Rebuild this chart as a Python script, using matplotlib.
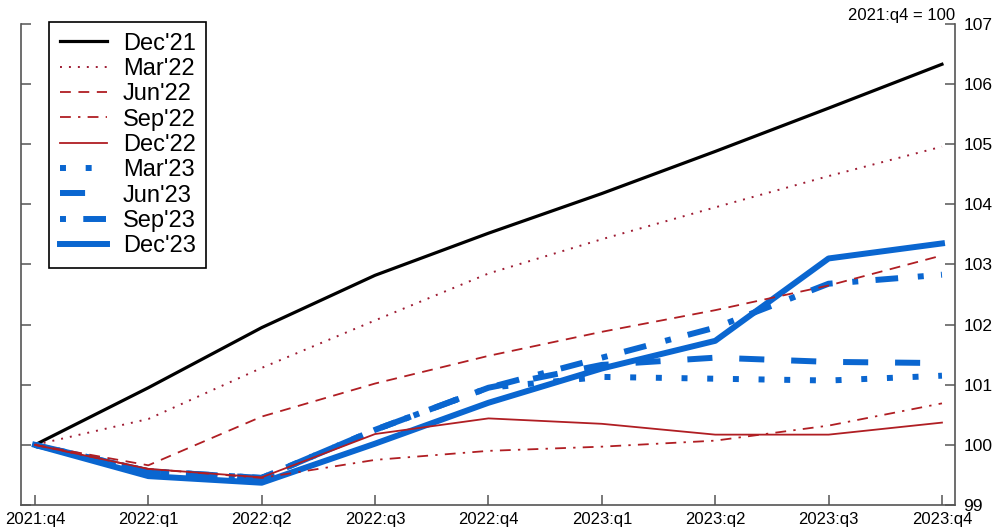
import matplotlib
matplotlib.use('Agg')
import matplotlib.pyplot as plt

plt.rcParams['font.family'] = ['Liberation Sans', 'DejaVu Sans']

quarters = ['2021:q4', '2022:q1', '2022:q2', '2022:q3', '2022:q4',
            '2023:q1', '2023:q2', '2023:q3', '2023:q4']

dec21 = [100, 100.95, 101.95, 102.82, 103.52, 104.18, 104.88, 105.6, 106.33]
mar22 = [100, 100.43, 101.28, 102.07, 102.85, 103.42, 103.95, 104.47, 104.96]
jun22 = [100, 99.66, 100.47, 101.02, 101.48, 101.88, 102.24, 102.65, 103.15]
sep22 = [100, 99.6, 99.45, 99.75, 99.9, 99.97, 100.07, 100.32, 100.69]
dec22 = [100, 99.6, 99.46, 100.18, 100.44, 100.35, 100.17, 100.17, 100.37]
mar23 = [100, 99.56, 99.45, 100.25, 100.95, 101.13, 101.1, 101.07, 101.15]
jun23 = [100, 99.56, 99.45, 100.25, 100.95, 101.33, 101.45, 101.38, 101.36]
sep23 = [100, 99.56, 99.45, 100.25, 100.95, 101.45, 101.95, 102.68, 102.83]
dec23 = [100, 99.48, 99.37, 100.02, 100.7, 101.27, 101.73, 103.1, 103.35]

red = '#B01E23'
blue = '#0A66D0'
x = list(range(len(quarters)))

fig = plt.figure(figsize=(10, 5.28), dpi=100)
ax = fig.add_axes([0.021, 0.0436, 0.934, 0.911])

ax.plot(x, dec21, color='black', lw=2.3, label="Dec'21", zorder=3)
ax.plot(x, mar22, color='#9E1B32', lw=1.4, linestyle=(0, (1, 3.6)), label="Mar'22", zorder=5)
ax.plot(x, jun22, color=red, lw=1.3, linestyle=(0, (6, 4.2)), label="Jun'22", zorder=5)
ax.plot(x, sep22, color=red, lw=1.3, linestyle=(0, (6, 4, 1.3, 4)), label="Sep'22", zorder=5)
ax.plot(x, dec22, color=red, lw=1.3, label="Dec'22", zorder=5)
ax.plot(x, mar23, color=blue, lw=4.3, linestyle=(0, (1, 3.3)), dash_capstyle='butt',
        label="Mar'23", zorder=4)
ax.plot(x, jun23, color=blue, lw=4.3, linestyle=(0, (4.2, 4.5)), dash_capstyle='butt',
        label="Jun'23", zorder=4)
ax.plot(x, sep23, color=blue, lw=4.3, linestyle=(0, (1, 2.9, 3.8, 3.3)), dash_capstyle='butt',
        label="Sep'23", zorder=4)
ax.plot(x, dec23, color=blue, lw=4.3, label="Dec'23", zorder=4)

ax.set_xlim(-0.123, 8.115)
ax.set_ylim(99, 107)
ax.set_xticks(x)
ax.set_xticklabels(quarters)
ax.set_yticks(range(99, 108))

ax.spines['top'].set_visible(False)
for s in ['left', 'right', 'bottom']:
    ax.spines[s].set_color('#555555')
    ax.spines[s].set_linewidth(1.2)
ax.tick_params(axis='y', which='both', direction='in', length=7, width=1.1,
               color='#555555', left=True, right=True, labelleft=False,
               labelright=True, labelsize=12.5, pad=6)
ax.tick_params(axis='x', direction='in', length=7, width=1.1, color='#555555',
               labelsize=12, pad=5)

ax.text(1.0, 1.003, '2021:q4 = 100', transform=ax.transAxes, ha='right',
        va='bottom', fontsize=12)

leg = ax.legend(loc='upper left', bbox_to_anchor=(0.03, 1.004), borderaxespad=0,
                fontsize=17, fancybox=False, framealpha=1, edgecolor='black',
                handlelength=2.0, handletextpad=0.68, labelspacing=0.14,
                borderpad=0.45)
leg.get_frame().set_linewidth(1.2)

plt.savefig('out.png', dpi=100)
plt.close()
